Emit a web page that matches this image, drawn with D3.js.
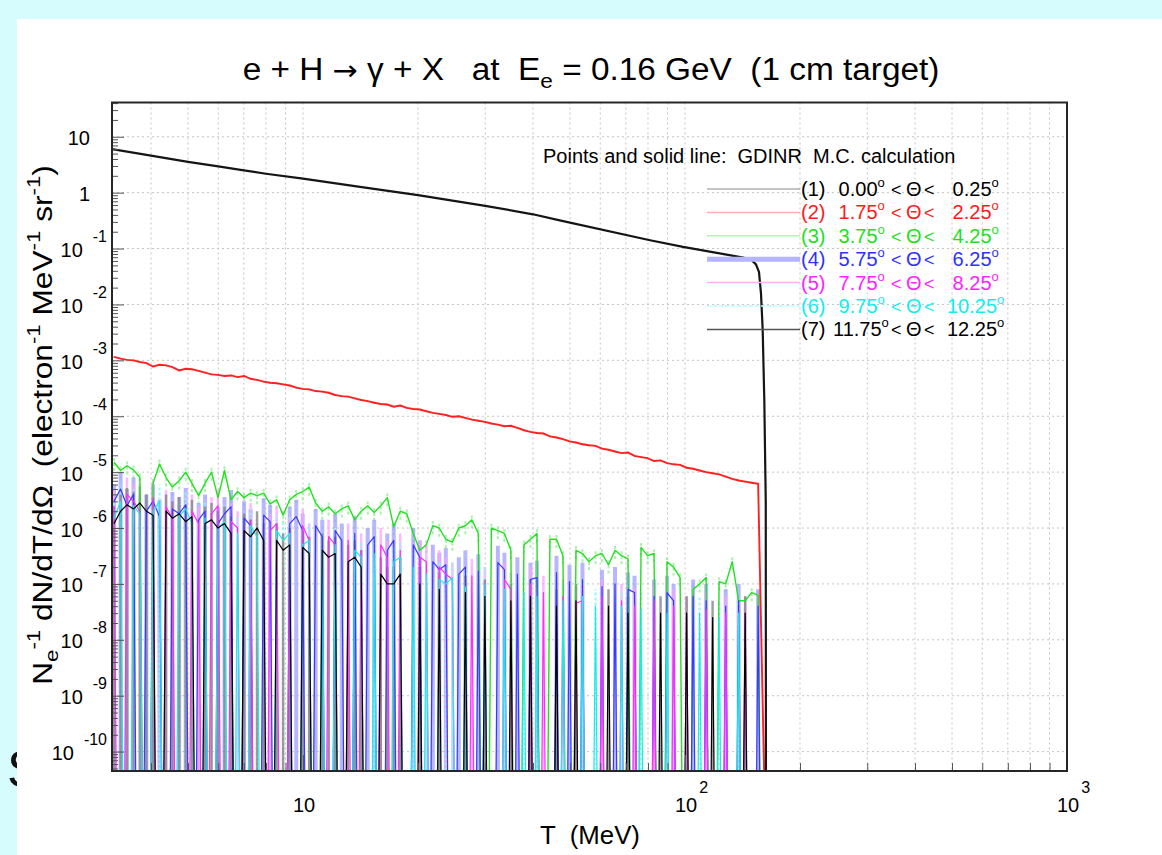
<!DOCTYPE html>
<html>
<head>
<meta charset="utf-8">
<script src="https://cdn.jsdelivr.net/npm/d3@7/dist/d3.min.js"></script>
<style>
  html, body { margin:0; padding:0; background:#d6fcfd; }
  svg { display:block; font-family:"Liberation Sans", Arial, Helvetica, sans-serif; }
  text { white-space: pre; }
</style>
</head>
<body>
<svg id="chart" width="1162" height="855"></svg>
<script>
// ================= DATA =================
// photon energy bins T (MeV)
const T = [3.20,3.33,3.46,3.60,3.74,3.89,4.05,4.21,4.38,4.55,
  4.74,4.93,5.12,5.33,5.54,5.76,5.99,6.23,6.48,6.74,
  7.01,7.29,7.58,7.89,8.20,8.53,8.87,9.23,9.60,9.98,
  10.38,10.79,11.23,11.67,12.14,12.63,13.13,13.66,14.20,14.77,
  15.36,15.98,16.62,17.28,17.97,18.69,19.44,20.22,21.03,21.87,
  22.74,23.65,24.60,25.58,26.61,27.67,28.78,29.93,31.13,32.37,
  33.67,35.01,36.41,37.87,39.39,40.96,42.60,44.30,46.08,47.92,
  49.84,51.83,53.90,56.06,58.30,60.64,63.06,65.58,68.21,70.93,
  73.77,76.72,79.79,82.98,86.30,89.75,93.34,97.08,100.96,105.0,
  109.2,113.6,118.1,122.8,127.8,132.9,138.2,143.7,149.5,155.4,
  161.6];

// (1) 0.00 < theta < 0.25  (smooth solid line)
const s1T = [3.162,4,5,6,7,8,10,14.1,20,30,40,47,81,98.8,121.1,142.1,149.5,153.4,156.2,158.1,159.7,161.3,162.7,163.2];
const s1V = [6.0,4.6,3.55,2.95,2.5,2.18,1.78,1.27,0.90,0.58,0.41,0.32,0.141,0.107,0.0836,0.069,0.062,0.052,0.038,0.0156,3.6e-3,1.9e-4,3e-6,0];

// (2) 1.75 < theta < 2.25
const s2 = [1.15e-3,1.07e-3,1.02e-3,1.00e-3,9.33e-4,8.91e-4,7.76e-4,8.32e-4,8.13e-4,7.59e-4,
  6.61e-4,7.08e-4,6.92e-4,6.46e-4,6.03e-4,5.62e-4,5.50e-4,5.25e-4,5.37e-4,5.01e-4,
  5.25e-4,4.68e-4,4.47e-4,4.17e-4,3.98e-4,3.89e-4,3.72e-4,3.55e-4,3.24e-4,3.09e-4,
  3.02e-4,2.82e-4,2.75e-4,2.63e-4,2.40e-4,2.29e-4,2.24e-4,2.09e-4,1.95e-4,1.86e-4,
  1.74e-4,1.66e-4,1.62e-4,1.48e-4,1.55e-4,1.41e-4,1.35e-4,1.32e-4,1.23e-4,1.15e-4,
  1.10e-4,1.05e-4,9.77e-5,1.00e-4,9.33e-5,8.71e-5,8.32e-5,7.94e-5,7.41e-5,7.08e-5,
  6.61e-5,6.76e-5,6.17e-5,5.62e-5,5.25e-5,5.01e-5,4.90e-5,4.37e-5,4.17e-5,3.89e-5,
  3.55e-5,3.39e-5,3.16e-5,3.02e-5,2.95e-5,2.63e-5,2.51e-5,2.34e-5,2.19e-5,2.24e-5,
  1.95e-5,1.86e-5,1.78e-5,1.58e-5,1.62e-5,1.45e-5,1.38e-5,1.35e-5,1.20e-5,1.15e-5,
  1.07e-5,1.00e-5,9.55e-6,9.12e-6,8.32e-6,7.59e-6,7.08e-6,6.76e-6,6.46e-6,6.17e-6,
  1.5e-11];

// (3) 3.75 < theta < 4.25
const s3 = [1.5e-5,1.07e-5,1.3e-5,1.1e-5,8e-6,0,6.3e-6,1.4e-5,8e-6,5.4e-6,
  7e-6,1e-5,6.3e-6,3.8e-6,6.3e-6,1e-5,3.5e-6,1.07e-5,3.2e-6,4.5e-6,
  3.5e-6,4.2e-6,3.8e-6,4.2e-6,2.7e-6,3.2e-6,1.7e-6,3.2e-6,4e-6,4.5e-6,
  5.4e-6,2.8e-6,2e-6,2.4e-6,1.8e-6,2.2e-6,2.5e-6,1.4e-6,2e-6,2.5e-6,
  1.9e-6,2.5e-6,3.5e-6,1.05e-6,2e-6,1.8e-6,8e-7,4e-7,5e-7,1.1e-6,
  1e-6,6.3e-7,5.6e-7,1e-6,1.1e-6,1.4e-6,8e-7,0,1e-6,9e-7,
  8e-7,4e-7,0,5e-7,6.3e-7,8e-7,0,6.3e-7,6.3e-7,3.2e-7,
  0,4e-7,3.5e-7,2.5e-7,3.2e-7,3.5e-7,2.2e-7,4e-7,3.2e-7,2.8e-7,
  0,4.5e-7,3.2e-7,3.5e-7,0,2.5e-7,2e-7,1.3e-7,0,8e-8,
  1e-7,1.3e-7,0,1.1e-7,1e-7,2.5e-7,5e-8,5e-8,7e-8,6.3e-8,
  0];

// (4) 5.75 < theta < 6.25
const s4 = [3e-6,5e-6,2.5e-6,4e-6,0,2e-6,3e-6,1.6e-6,0,2.2e-6,
  1.8e-6,2.6e-6,0,1.4e-6,2e-6,0,1.2e-6,1.8e-6,2.4e-6,0,
  1.5e-6,1.1e-6,0,1.7e-6,1.3e-6,0,0,1.2e-6,1.6e-6,9e-7,
  0,1.1e-6,7e-7,0,9e-7,6e-7,0,8e-7,0,5e-7,
  7e-7,0,4e-7,6e-7,0,0,5e-7,3e-7,0,2.5e-7,
  1.8e-7,2.2e-7,0,1.5e-7,2e-7,0,1.7e-7,0,0,2.4e-7,
  1.8e-7,0,1.5e-7,0,1.2e-7,1.3e-7,0,0,1.6e-7,0,
  1.1e-7,0,1.2e-7,0,0,9e-8,0,1e-7,0,8e-8,
  7e-8,0,0,6e-8,0,7e-8,5e-8,0,0,6e-8,
  0,5e-8,0,0,4e-8,0,5e-8,0,0,4e-8,
  0];

// (5) 7.75 < theta < 8.25
const s5 = [2.5e-6,0,4e-6,3e-6,2e-6,0,3.5e-6,0,2.4e-6,1.5e-6,
  0,0,2e-6,1.2e-6,0,1.8e-6,2.5e-6,0,1.3e-6,1e-6,
  0,1.4e-6,0,0,9e-7,1.2e-6,0,8e-7,0,1.1e-6,
  6e-7,0,0,7e-7,5e-7,0,6e-7,0,4e-7,0,
  0,5e-7,3e-7,0,4e-7,0,0,3e-7,2.5e-7,0,
  2e-7,1.5e-7,1.2e-7,0,0,1.4e-7,0,1e-7,0,0,
  1.2e-7,8e-8,0,0,1e-7,0,7e-8,0,0,6e-8,
  0,4.5e-8,5e-8,0,0,6e-8,0,0,5e-8,0,
  4e-8,0,0,5e-8,0,0,4e-8,0,3e-8,0,
  0,3.5e-8,0,0,3e-8,0,0,3e-8,0,0,
  0];

// (6) 9.75 < theta < 10.25
const s6 = [1.5e-6,3e-6,0,2.5e-6,1.8e-6,0,2e-6,3e-6,0,0,
  1.6e-6,2.2e-6,1.2e-6,0,1.5e-6,0,1e-6,1.3e-6,0,8e-7,
  0,1.1e-6,7e-7,0,0,9e-7,6e-7,8e-7,0,5e-7,
  6e-7,0,4e-7,0,5e-7,0,0,4e-7,3e-7,0,
  3.5e-7,0,0,2.5e-7,3e-7,0,2e-7,0,1.5e-7,0,
  1.2e-7,1e-7,1.3e-7,0,9e-8,0,0,1e-7,0,0,
  8e-8,0,0,7e-8,0,6e-8,0,0,0,5e-8,
  0,0,6e-8,0,4e-8,0,0,0,4e-8,0,
  0,3.5e-8,0,0,0,3e-8,0,0,0,0,
  3e-8,0,0,2.5e-8,0,0,3e-8,0,0,0,
  0];

// (7) 11.75 < theta < 12.25
const s7 = [1.2e-6,2e-6,2.6e-6,2.2e-6,2.8e-6,2e-6,1.7e-6,0,2e-6,1.5e-6,
  1.8e-6,1.3e-6,1.6e-6,0,1.2e-6,1.4e-6,1e-6,1.2e-6,8e-7,0,
  9e-7,7e-7,1e-6,6e-7,0,6e-7,4e-7,5e-7,0,4.5e-7,
  3.5e-7,0,4e-7,3e-7,3.5e-7,0,2.5e-7,3e-7,2e-7,0,
  0,1.5e-7,1e-7,1e-7,1.5e-7,0,0,1e-7,0,0,
  8e-8,0,0,0,7e-8,0,0,6e-8,0,0,
  0,5e-8,0,0,6e-8,0,0,0,4e-8,0,
  0,5e-8,0,0,0,0,4e-8,0,0,3e-8,
  0,0,0,0,3e-8,0,0,0,3e-8,0,
  0,0,2.5e-8,0,0,0,0,3e-8,0,0,
  0];

// relative statistical error of the points (series 2..7)
const relErr = [0.04, 0.3, 1, 1, 1, 1];

const xTickVals = [10, 100, 1000];
const xTickExps = ['', '2', '3'];
const yTickExps = [-10,-9,-8,-7,-6,-5,-4,-3,-2,-1,0,1];
const legendNums = ['(1)','(2)','(3)','(4)','(5)','(6)','(7)'];
const thetaLo = ['0.00','1.75','3.75','5.75','7.75','9.75','11.75'];
const thetaHi = ['0.25','2.25','4.25','6.25','8.25','10.25','12.25'];

// ================= STYLE =================
const lineColors = ['#151515','#ff2020','#22e022','#3838ff','#ff2cff','#19eaea','#000000'];
const lineWidths = [2.2, 1.9, 1.4, 1.2, 1.2, 1.2, 1.2];
const errColors = ['#ff8c8c','#8ef08e','#a0a0ff','#ffa0ff','#8ff5f5','#808080'];
const errWidths = [1.5, 2, 4, 2.5, 2.5, 2.5];
const errDash = [null, '3,2', null, null, '3,2', null];
const legendTextColors = ['#000','#ff1a1a','#1ee01e','#3030ff','#ff22ff','#10eeee','#000'];
const legendLineColors = ['#8a8a8a','#ffb0b0','#b0f5b0','#b4b4ff','#ffb0ff','#b0ffff','#555'];
const legendLineWidths = [1.2, 1.5, 1.5, 5, 1.5, 1.5, 1.5];

// ================= DRAW =================
const svg = d3.select('#chart');
// cut-off letter from the underlying slide
svg.append('text').attr('x', 7).attr('y', 787).attr('font-size', 52).attr('fill', '#111').text('S');
svg.append('rect').attr('x', 17).attr('y', 19).attr('width', 1162 - 17).attr('height', 855 - 19).attr('fill', '#fff');

const P = {l: 112, r: 1067, t: 102.5, b: 771};
const yMin = 4.5e-11;
const x = d3.scaleLog().domain([3.162, 1000]).range([P.l, P.r]);
const y = d3.scaleLog().domain([yMin, 41]).range([P.b, P.t]);
// empty bins are sent far below the frame (log of zero), as the original plotting program does
const yv = v => y(v > 0 ? v : 1e-20);

// grid
const grid = svg.append('g').attr('stroke', '#c4c4c4').attr('stroke-width', 1).attr('stroke-dasharray', '2,3');
grid.selectAll('line.vg').data(x.ticks()).join('line').attr('class', 'vg')
  .attr('x1', d => x(d)).attr('x2', d => x(d)).attr('y1', P.t).attr('y2', P.b);
grid.selectAll('line.hg').data(yTickExps.map(e => Math.pow(10, e))).join('line').attr('class', 'hg')
  .attr('x1', P.l).attr('x2', P.r).attr('y1', d => y(d)).attr('y2', d => y(d));

svg.append('clipPath').attr('id', 'clip').append('rect')
  .attr('x', P.l).attr('y', P.t).attr('width', P.r - P.l).attr('height', P.b - P.t);
const plot = svg.append('g').attr('clip-path', 'url(#clip)');

const binned = [s2, s3, s4, s5, s6, s7];
// error bars
binned.forEach((vals, k) => {
  const pts = T.map((t, i) => [t, vals[i]]).filter(d => d[1] > 1e-10);
  plot.append('g').selectAll('line').data(pts).join('line')
    .attr('x1', d => x(d[0])).attr('x2', d => x(d[0]))
    .attr('y1', d => yv(d[1] * (1 - relErr[k]))).attr('y2', d => yv(d[1] * (1 + relErr[k])))
    .attr('stroke', errColors[k]).attr('stroke-width', errWidths[k])
    .attr('stroke-dasharray', errDash[k]).attr('opacity', 0.75);
});

const line = d3.line().x(d => x(d[0])).y(d => yv(d[1]));
// binned series 3..7
[1, 2, 3, 4, 5].forEach(k => {
  plot.append('path').datum(T.map((t, i) => [t, binned[k][i]]))
    .attr('d', line).attr('fill', 'none')
    .attr('stroke', lineColors[k + 1]).attr('stroke-width', lineWidths[k + 1]).attr('stroke-linejoin', 'round');
});
// series 2
plot.append('path').datum(T.map((t, i) => [t, s2[i]]))
  .attr('d', line).attr('fill', 'none').attr('stroke', lineColors[1]).attr('stroke-width', lineWidths[1]);
// series 1
plot.append('path').datum(s1T.map((t, i) => [t, s1V[i]]))
  .attr('d', line).attr('fill', 'none').attr('stroke', lineColors[0]).attr('stroke-width', lineWidths[0]);

// axis ticks (inside)
const yMajor = yTickExps.map(e => Math.pow(10, e));
const yMinor = [];
for (let e = -11; e <= 1; e++) for (let m = 2; m <= 9; m++) {
  const v = m * Math.pow(10, e);
  if (v > yMin && v < 41) yMinor.push(v);
}
const xMinor = x.ticks().filter(v => !xTickVals.includes(v));
function styleAxis(g) { g.select('.domain').remove(); g.selectAll('line').attr('stroke', '#555'); }
svg.append('g').attr('transform', `translate(${P.l},0)`)
  .call(d3.axisLeft(y).tickValues(yMinor).tickSize(-6).tickFormat('')).call(styleAxis);
svg.append('g').attr('transform', `translate(${P.l},0)`)
  .call(d3.axisLeft(y).tickValues(yMajor).tickSize(-12).tickFormat('')).call(styleAxis);
svg.append('g').attr('transform', `translate(0,${P.b})`)
  .call(d3.axisBottom(x).tickValues(xMinor).tickSize(-8).tickFormat('')).call(styleAxis);
svg.append('g').attr('transform', `translate(0,${P.b})`)
  .call(d3.axisBottom(x).tickValues(xTickVals).tickSize(-16).tickFormat('')).call(styleAxis);

// frame
svg.append('rect').attr('x', P.l).attr('y', P.t).attr('width', P.r - P.l).attr('height', P.b - P.t)
  .attr('fill', 'none').attr('stroke', '#262626').attr('stroke-width', 2);

// y tick labels
yTickExps.forEach(e => {
  const ty = y(Math.pow(10, e));
  if (e === 0 || e === 1) {
    svg.append('text').attr('x', 90).attr('y', ty + 8.5).attr('text-anchor', 'end')
      .attr('font-size', 20).attr('fill', '#000').text(e === 0 ? '1' : '10');
  } else {
    const t = svg.append('text').attr('x', 107).attr('y', ty + 8.5).attr('text-anchor', 'end')
      .attr('font-size', 20).attr('fill', '#000');
    t.append('tspan').text('10');
    t.append('tspan').attr('dx', 10).attr('dy', -15).attr('font-size', 16).text(String(e));
  }
});
// x tick labels
xTickVals.forEach((v, i) => {
  const tx = x(v);
  const t = svg.append('text').attr('x', tx - 10).attr('y', 812).attr('font-size', 20).attr('fill', '#000');
  t.append('tspan').text('10');
  if (xTickExps[i]) t.append('tspan').attr('dx', 2).attr('dy', -19).attr('font-size', 16).text(xTickExps[i]);
});

function fit(textSel, target) {
  const w = textSel.node().getBBox().width;
  textSel.attr('transform', `scale(${target / w},1)`);
}
// title
const tg = svg.append('g').attr('transform', 'translate(591,80)');
const title = tg.append('text').attr('text-anchor', 'middle').attr('font-size', 31).attr('fill', '#000');
title.append('tspan').text('e + H ');
title.append('tspan').attr('font-family', '"DejaVu Sans", sans-serif').attr('font-size', 28).text('\u2192');
title.append('tspan').text(' \u03b3 + X   at  E');
title.append('tspan').attr('dy', 8).attr('font-size', 21).text('e');
title.append('tspan').attr('dy', -8).text(' = 0.16 GeV  (1 cm target)');
fit(title, 697);

// x title
const xg = svg.append('g').attr('transform', 'translate(590,844)');
const xt = xg.append('text').attr('text-anchor', 'middle').attr('font-size', 26).attr('fill', '#000').text('T  (MeV)');
fit(xt, 100);

// y title
const yg = svg.append('g').attr('transform', 'translate(52,425) rotate(-90)');
const yt = yg.append('text').attr('text-anchor', 'middle').attr('font-size', 27).attr('fill', '#000');
yt.append('tspan').text('N');
yt.append('tspan').attr('dy', 6).attr('font-size', 19).text('e');
yt.append('tspan').attr('dy', -18).attr('font-size', 19).text('-1');
yt.append('tspan').attr('dy', 12).text(' dN/dT/d\u03a9  (electron');
yt.append('tspan').attr('dy', -12).attr('font-size', 19).text('-1');
yt.append('tspan').attr('dy', 12).text(' MeV');
yt.append('tspan').attr('dy', -12).attr('font-size', 19).text('-1');
yt.append('tspan').attr('dy', 12).text(' sr');
yt.append('tspan').attr('dy', -12).attr('font-size', 19).text('-1');
yt.append('tspan').attr('dy', 12).text(')');
fit(yt, 520);

// legend
svg.append('text').attr('x', 543).attr('y', 163).attr('font-size', 20).attr('fill', '#000')
  .text('Points and solid line:  GDINR  M.C. calculation');
legendNums.forEach((n, i) => {
  const ly = 189 + i * 23.4;
  svg.append('line').attr('x1', 707).attr('x2', 800).attr('y1', ly).attr('y2', ly)
    .attr('stroke', legendLineColors[i]).attr('stroke-width', legendLineWidths[i])
    .attr('stroke-dasharray', i === 5 ? '4,2' : null);
  const t = svg.append('text').attr('y', ly + 7).attr('font-size', 20).attr('fill', legendTextColors[i]);
  t.append('tspan').attr('x', 801).text(n);
  t.append('tspan').attr('x', thetaLo[i].length > 4 ? 833 : 838.6).text(thetaLo[i]);
  t.append('tspan').attr('dy', -9).attr('font-size', 13).text('o');
  t.append('tspan').attr('x', 891).attr('dy', 9).attr('font-size', 18).text('<');
  t.append('tspan').attr('x', 906).text('\u0398');
  t.append('tspan').attr('x', 924).attr('font-size', 18).text('<');
  t.append('tspan').attr('x', thetaHi[i].length > 4 ? 947 : 952.6).text(thetaHi[i]);
  t.append('tspan').attr('dy', -9).attr('font-size', 13).text('o');
});
</script>
</body>
</html>
